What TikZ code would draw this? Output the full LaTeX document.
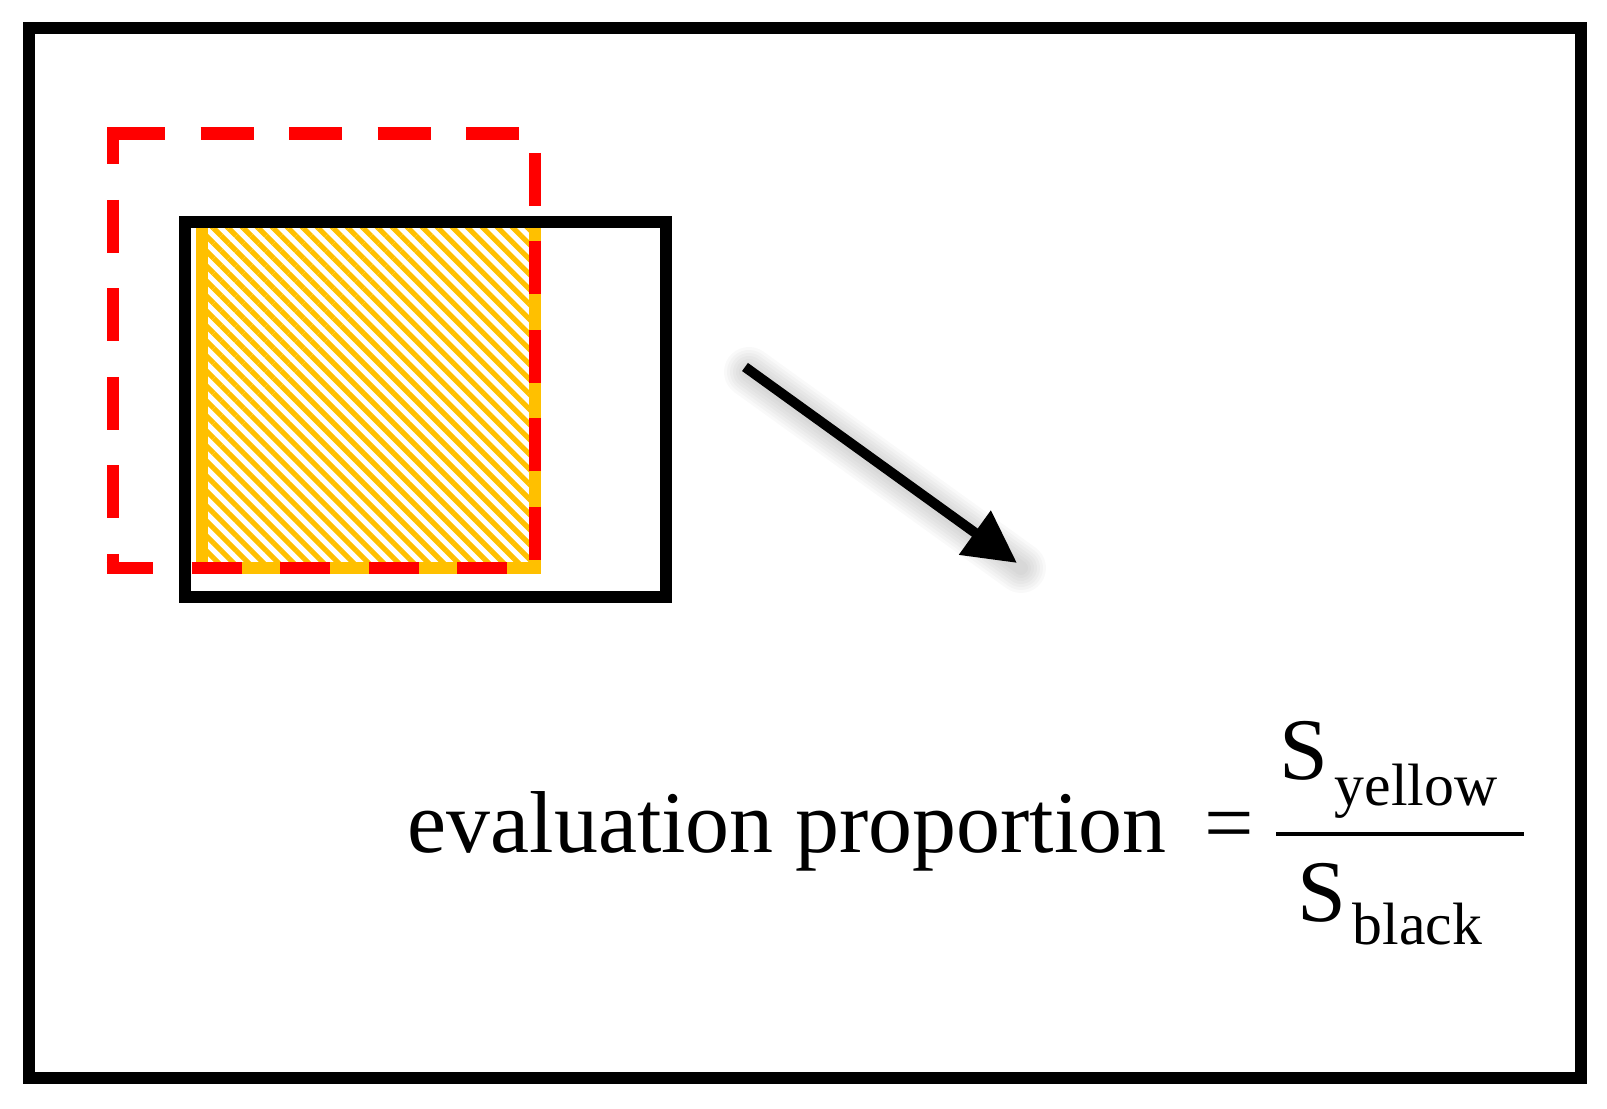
\documentclass[tikz,border=0pt]{standalone}
\usepackage{fontspec}
\setmainfont{Liberation Serif}
\usepackage{tikz}
\usetikzlibrary{calc, arrows.meta, patterns.meta}
\definecolor{hatchyellow}{HTML}{FFC000}
\definecolor{boxred}{HTML}{FF0000}
\tikzset{>=latex}
\tikzset{formula/.style = {inner sep = 0pt, font = \fontsize{25}{30}\selectfont},
         subtext/.style = {inner sep = 0pt, font = \fontsize{17}{20}\selectfont},
         reddash/.style = {line width = 0.127cm, boxred, dash pattern = on 0.53cm off 0.355cm}}

\begin{document}
\begin{tikzpicture}
\useasboundingbox (0, 0) rectangle (16.07, 11.09);
\draw[line width = 0.127cm] (0.29, 0.31) rectangle (15.81, 10.81);
% hatched yellow part
\draw[line width = 0.123cm, hatchyellow, pattern = {Lines[angle = -45, distance = 0.106cm, line width = 0.052cm]}, pattern color = hatchyellow] (2.02, 5.41) rectangle (5.35, 8.87);
% red dashed box, side by side
\draw[reddash] (1.12, 9.755) -- (5.4135, 9.755);
\draw[reddash, dash phase = 0.1565cm] (1.13, 9.8185) -- (1.13, 5.3465);
\draw[reddash, dash phase = 0.6265cm] (5.35, 9.8185) -- (5.35, 5.3465);
\draw[reddash, dash pattern = on 0.5cm off 0.385cm, dash phase = 0.035cm] (1.0665, 5.41) -- (5.4135, 5.41);
% black box
\draw[line width = 0.127cm] (1.85, 5.12) rectangle (6.66, 8.87);
% arrow
\coordinate (arrowstart) at (7.45, 7.42);
\coordinate (arrowtip) at (10.17, 5.46);
\foreach \w in {0.5, 0.44, 0.38, 0.32, 0.26, 0.2, 0.14}
  \draw[line width = \w cm, black, opacity = 0.025, line cap = round, transform canvas = {shift = {(0.04, -0.05)}}] (arrowstart) -- (arrowtip);
\draw[line width = 0.1cm, -{Triangle[length = 0.52cm, width = 0.52cm]}] (arrowstart) -- (arrowtip);
% formula
\node[formula, anchor = base west] (evalprop) at (4.07, 2.56) {evaluation proportion};
\node[formula, anchor = base] (eqsign) at (12.29, 2.56) {=};
\node[formula, anchor = base west] (numS) at (12.79, 3.29) {S};
\node[subtext, anchor = base west] (numsub) at (13.34, 3.03) {yellow};
\node[formula, anchor = base west] (denS) at (12.97, 1.87) {S};
\node[subtext, anchor = base west] (densub) at (13.52, 1.64) {black};
\coordinate (barleft) at (12.76, 2.75);
\coordinate (barright) at (15.24, 2.75);
\draw[line width = 0.04cm] (barleft) -- (barright);
\end{tikzpicture}
\end{document}
